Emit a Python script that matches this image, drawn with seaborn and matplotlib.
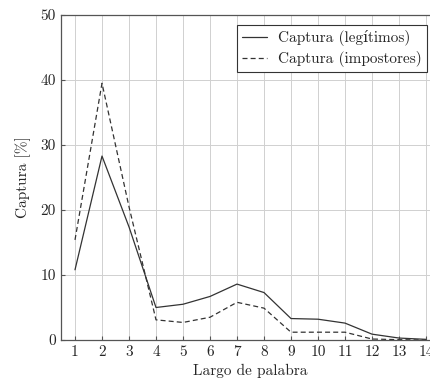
import matplotlib
matplotlib.use("Agg")
import matplotlib.pyplot as plt
import seaborn as sns
import pandas as pd

largo = [1, 2, 3, 4, 5, 6, 7, 8, 9, 10, 11, 12, 13, 14]
legitimos = [10.8, 28.3, 17.4, 5.0, 5.5, 6.7, 8.6, 7.3, 3.3, 3.2, 2.6, 0.9, 0.3, 0.1]
impostores = [15.4, 39.5, 20.5, 3.1, 2.7, 3.5, 5.8, 4.9, 1.2, 1.2, 1.2, 0.15, 0.05, 0.0]
x_ticks = [1, 2, 3, 4, 5, 6, 7, 8, 9, 10, 11, 12, 13, 14]
y_ticks = [0, 10, 20, 30, 40, 50]

sns.set_style("whitegrid")
plt.rcParams['font.family'] = ['cmr10', 'DejaVu Serif']
plt.rcParams['axes.formatter.use_mathtext'] = True
plt.rcParams['mathtext.fontset'] = 'cm'

W, H = 431, 382
fig = plt.figure(figsize=(W / 100, H / 100), dpi=100)
ax = fig.add_axes([61.5 / W, (H - 340) / H, 378 / W, 325 / H])

df = pd.DataFrame({"x": largo, "leg": legitimos, "imp": impostores})
sns.lineplot(data=df, x="x", y="leg", ax=ax, color="#333333", lw=0.9,
             label="Captura (legítimos)")
sns.lineplot(data=df, x="x", y="imp", ax=ax, color="#333333", lw=0.9,
             linestyle=(0, (4, 2.5)), label="Captura (impostores)")

ax.set_xlim(0.5, 14.5)
ax.set_ylim(0, 50)
ax.set_xticks(x_ticks)
ax.set_yticks(y_ticks)
ax.set_xticklabels([str(v) for v in x_ticks])
ax.set_yticklabels([str(v) for v in y_ticks])
ax.grid(True, color="#d0d0d0", lw=0.7)
for s in ax.spines.values():
    s.set_color("#555555")
    s.set_linewidth(0.9)
ax.tick_params(axis="both", labelsize=11, direction="in", length=3, color="#555555",
               pad=4, bottom=True, left=True)
ax.set_xlabel("Largo de palabra", fontsize=11, labelpad=3)
ax.set_ylabel("Captura [%]", fontsize=11, labelpad=7)

leg = ax.legend(loc="upper right", bbox_to_anchor=((427 - 61.5) / 378, (340 - 25) / 325),
                frameon=True, fancybox=False, fontsize=11, handlelength=1.65,
                borderpad=0.35, labelspacing=0.3, handletextpad=0.7, borderaxespad=0)
leg.get_frame().set_edgecolor("#333333")
leg.get_frame().set_linewidth(0.8)
leg.get_frame().set_alpha(1)

fig.savefig("out.png", dpi=100)
